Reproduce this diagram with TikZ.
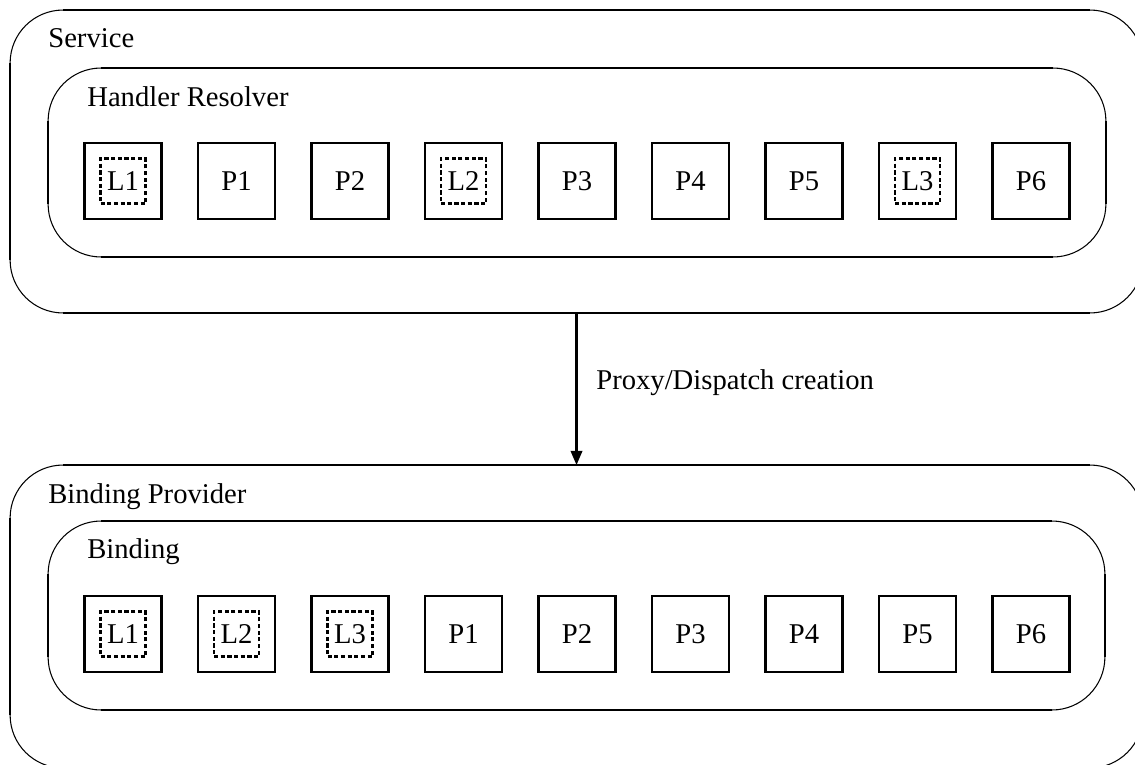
\documentclass[tikz,border=0pt]{standalone}
\usepackage{fontspec}
\setmainfont{Liberation Serif}
\usetikzlibrary{calc,arrows.meta}

\tikzset{
    container/.style={draw, line width=0.6pt, rounded corners=1.06cm, inner sep=0pt, outer sep=0pt},
    edge/.style={line width=1.2pt},
    part/.style={draw, line width=1.2pt, minimum width=1.54cm, minimum height=1.52cm, inner sep=0pt},
    layer/.style={draw, line width=1.3pt, dash pattern=on 2.4pt off 1.4pt, minimum size=0.9cm, inner sep=0pt},
    plain/.style={inner sep=0pt},
    caption/.style={anchor=base west, inner sep=0pt},
}

% thick straight sides, thin corners
\newcommand{\boxedges}[1]{%
    \draw[edge] ($(#1.north west)+(53,0)$) -- ($(#1.north east)+(-53,0)$);
    \draw[edge] ($(#1.south west)+(53,0)$) -- ($(#1.south east)+(-53,0)$);
    \draw[edge] ($(#1.north west)+(0,53)$) -- ($(#1.south west)+(0,-53)$);
    \draw[edge] ($(#1.north east)+(0,53)$) -- ($(#1.south east)+(0,-53)$);
}

\begin{document}
\begin{tikzpicture}[x=0.02cm, y=-0.02cm, font=\fontsize{16.3}{19}\selectfont]
    \clip (0,0) rectangle (1135,764);

    % upper half
    \node[container, minimum width=22.66cm, minimum height=6.06cm] (svc) at (576.5,161.5) {};
    \node[container, minimum width=21.16cm, minimum height=3.78cm] (resolver) at (577,162.5) {};
    \boxedges{svc}
    \boxedges{resolver}
    \node[caption] at (48,47) {Service};
    \node[caption] at (87,106) {Handler Resolver};
    \foreach \lab/\kind [count=\i from 0] in {L1/layer,P1/plain,P2/plain,L2/layer,P3/plain,P4/plain,P5/plain,L3/layer,P6/plain} {
        \node[part] (h\i) at ({123+113.5*\i},181) {};
        \node[\kind] at (h\i) {\lab};
    }

    % lower half
    \node[container, minimum width=22.66cm, minimum height=6.06cm] (provider) at (576.5,616.5) {};
    \node[container, minimum width=21.14cm, minimum height=3.78cm] (binding) at (576.5,615.5) {};
    \boxedges{provider}
    \boxedges{binding}
    \node[caption] at (48,503) {Binding Provider};
    \node[caption] at (87,558) {Binding};
    \foreach \lab/\kind [count=\i from 0] in {L1/layer,L2/layer,L3/layer,P1/plain,P2/plain,P3/plain,P4/plain,P5/plain,P6/plain} {
        \node[part] (b\i) at ({123+113.5*\i},634) {};
        \node[\kind] at (b\i) {\lab};
    }

    \draw[edge, -{Triangle[length=8pt, width=6.5pt]}] (svc.south) -- (provider.north);
    \node[caption] at (596,389) {Proxy/Dispatch creation};
\end{tikzpicture}
\end{document}
